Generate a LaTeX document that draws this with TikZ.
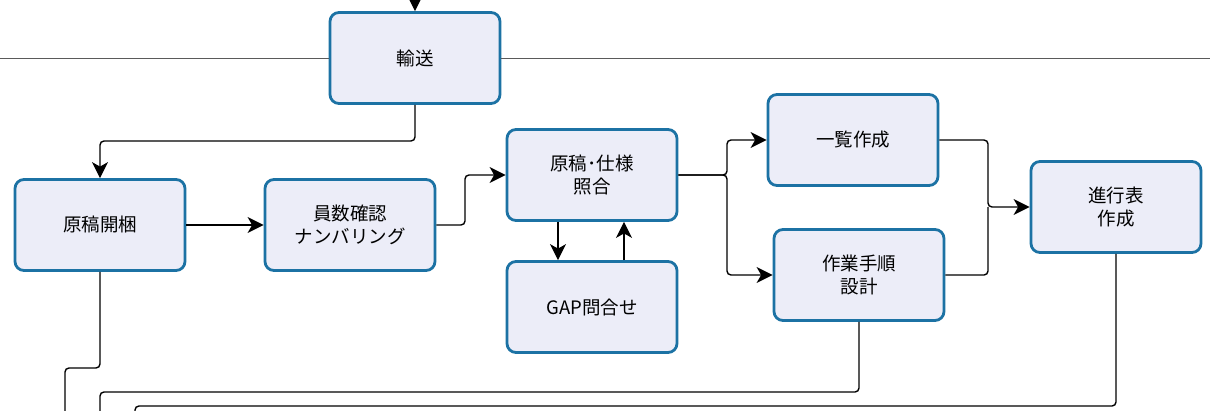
\documentclass[tikz,border=0pt]{standalone}
\usepackage{fontspec}
\setmainfont{Noto Sans CJK JP}
\usetikzlibrary{arrows.meta}
\definecolor{boxborder}{RGB}{28,114,164}
\definecolor{boxfill}{RGB}{236,237,248}
\definecolor{divider}{RGB}{90,90,90}
\tikzset{
  procbox/.style={draw=boxborder, fill=boxfill, line width=2.8pt, rounded corners=9pt,
    minimum width=170pt, minimum height=91pt, align=center, font=\fontsize{18.5}{23}\selectfont, inner sep=2pt},
  conn/.style={draw=black, line width=1.4pt, rounded corners=4pt},
  arr/.style={conn, -{Stealth[length=16pt,width=16pt,inset=4.5pt]}},
  divline/.style={draw=divider, line width=0.9pt}
}
\begin{document}
\begin{tikzpicture}[x=1pt,y=-1pt]
\useasboundingbox (0,0) rectangle (1210,410);
\fill[white] (0,0) rectangle (1210,410);
% nodes
\node[procbox] (yuso) at (415,58) {輸送};
\node[procbox] (kaikon) at (100,225) {原稿開梱};
\node[procbox] (inzu) at (350,225) {員数確認\\ナンバリング};
\node[procbox] (shogo) at (592,175) {原稿･仕様\\照合};
\node[procbox] (gap) at (592,307) {GAP問合せ};
\node[procbox] (ichiran) at (853,140) {一覧作成};
\node[procbox] (sagyo) at (859,275) {作業手順\\設計};
\node[procbox] (shinko) at (1116,207) {進行表\\作成};
% divider line
\coordinate (dl) at (0,58);
\coordinate (dr) at (1210,58);
\draw[divline] (dl) -- (yuso.west);
\draw[divline] (yuso.east) -- (dr);
% top incoming arrow
\coordinate (topin) at (415,-2);
\draw[arr] (topin) -- (yuso.north);
% connectors
\draw[arr] (yuso.south) -- (415,141) -- (100,141) -- (kaikon.north);
\draw[arr] (kaikon.east) -- (inzu.west);
\draw[arr] (inzu.east) -- (465,225) -- (465,175) -- (shogo.west);
\draw[arr] ([xshift=-34pt]shogo.south) -- ([xshift=-34pt]gap.north);
\draw[arr] ([xshift=32pt]gap.north) -- ([xshift=32pt]shogo.south);
\draw[arr] (shogo.east) -- (727,175) -- (727,140) -- (ichiran.west);
\draw[arr] (shogo.east) -- (727,175) -- (727,275) -- (sagyo.west);
\draw[arr] (ichiran.east) -- (988,140) -- (988,207) -- (shinko.west);
\draw[conn] (sagyo.east) -- (988,275) -- (988,207);
% bottom outgoing lines
\coordinate (out1) at (65,412);
\coordinate (out2) at (100,412);
\coordinate (out3) at (135,412);
\draw[conn] (kaikon.south) -- (100,368) -- (65,368) -- (out1);
\draw[conn] (sagyo.south) -- (859,392) -- (100,392) -- (out2);
\draw[conn] (shinko.south) -- (1116,406) -- (135,406) -- (out3);
\end{tikzpicture}
\end{document}
